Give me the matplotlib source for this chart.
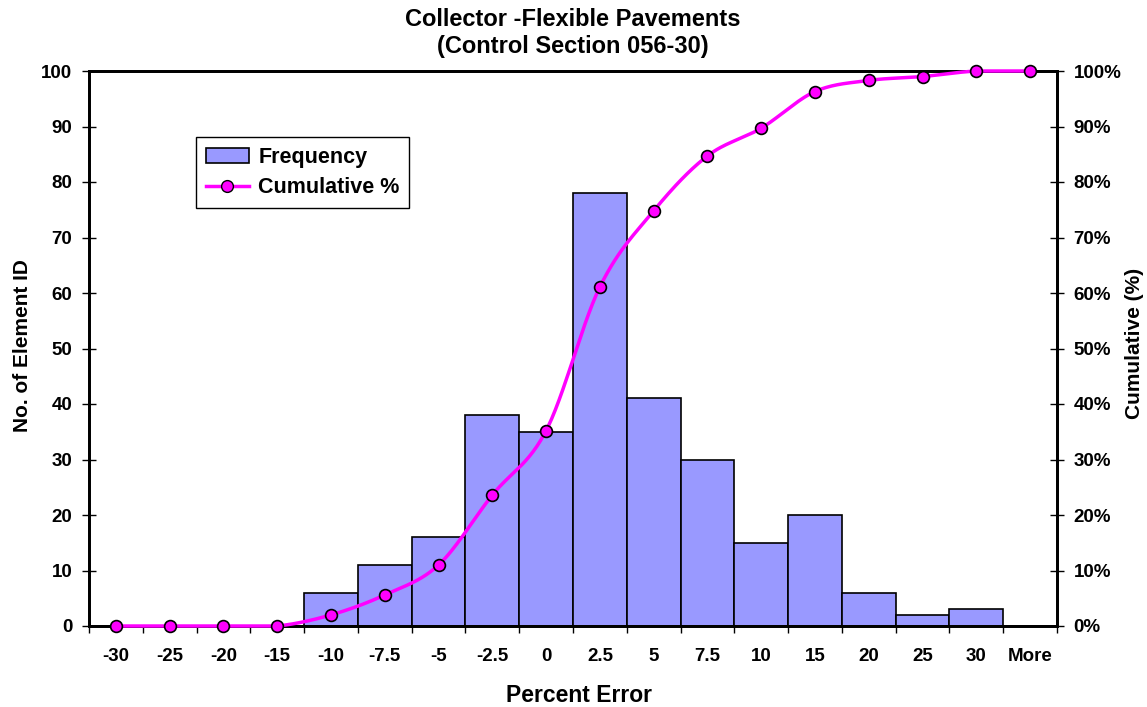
import numpy as np
import matplotlib.pyplot as plt
from matplotlib.patches import Patch
from matplotlib.lines import Line2D
from matplotlib.ticker import FuncFormatter, FixedLocator

plt.rcParams['font.family'] = ['Liberation Sans', 'DejaVu Sans']
plt.rcParams['font.weight'] = 'bold'

bins = ['-30', '-25', '-20', '-15', '-10', '-7.5', '-5', '-2.5', '0', '2.5',
        '5', '7.5', '10', '15', '20', '25', '30', 'More']
frequency = [0, 0, 0, 0, 6, 11, 16, 38, 35, 78, 41, 30, 15, 20, 6, 2, 3, 0]
cumulative_pct = [0, 0, 0, 0, 2.0, 5.6, 11.0, 23.6, 35.2, 61.1, 74.8, 84.7,
                  89.7, 96.3, 98.3, 99.0, 100, 100]

BAR_COLOR = '#9999FF'
LINE_COLOR = '#FF00FF'
W, H = 1147, 707


def smooth(x, y, steps=30):
    # Bezier smoothing through the points (same idea as a spreadsheet "smoothed line")
    x = np.asarray(x, float)
    y = np.asarray(y, float)
    n = len(x)
    xs, ys = [], []
    for i in range(n - 1):
        p0 = np.array([x[i], y[i]])
        p3 = np.array([x[i + 1], y[i + 1]])
        prev = np.array([x[max(i - 1, 0)], y[max(i - 1, 0)]])
        nxt = np.array([x[min(i + 2, n - 1)], y[min(i + 2, n - 1)]])
        p1 = p0 + (p3 - prev) / 6.0
        p2 = p3 - (nxt - p0) / 6.0
        t = np.linspace(0, 1, steps)[:, None]
        pts = ((1 - t) ** 3) * p0 + 3 * ((1 - t) ** 2) * t * p1 + 3 * (1 - t) * t ** 2 * p2 + t ** 3 * p3
        xs.extend(pts[:, 0])
        ys.extend(pts[:, 1])
    return np.array(xs), np.clip(np.array(ys), 0, 100)


fig = plt.figure(figsize=(W / 100, H / 100), dpi=100)
ax = fig.add_axes([89 / W, 1 - 626 / H, 968 / W, 555 / H])

pos = np.arange(len(bins))
ax.bar(pos, frequency, width=1.0, color=BAR_COLOR, edgecolor='black', linewidth=1.2, zorder=2)
ax.set_xlim(-0.5, len(bins) - 0.5)
ax.set_ylim(0, 100)
ax.set_yticks(range(0, 101, 10))
ax.set_xticks(pos)
ax.set_xticklabels(bins)
ax.xaxis.set_minor_locator(FixedLocator(np.arange(len(bins) + 1) - 0.5))
ax.tick_params(axis='x', which='major', length=0, pad=15.5, labelsize=13.5)
ax.tick_params(axis='x', which='minor', length=5, width=1, direction='out')
ax.tick_params(axis='y', length=10, width=1, direction='inout', labelsize=13.5, pad=7)
for s in ax.spines.values():
    s.set_linewidth(2)

ax2 = ax.twinx()
ax2.set_ylim(0, 100)
ax2.set_yticks(range(0, 101, 10))
ax2.yaxis.set_major_formatter(FuncFormatter(lambda v, p: f'{int(v)}%'))
ax2.tick_params(axis='y', length=10, width=1, direction='inout', labelsize=13.5, pad=7)
for s in ax2.spines.values():
    s.set_linewidth(2)
sx, sy = smooth(pos, cumulative_pct)
ax2.plot(sx, sy, color=LINE_COLOR, linewidth=2.5, zorder=3, clip_on=False)
ax2.plot(pos, cumulative_pct, linestyle='none', marker='o', markersize=8.5,
         markerfacecolor=LINE_COLOR, markeredgecolor='black', markeredgewidth=1.2,
         zorder=4, clip_on=False)

handles = [Patch(facecolor=BAR_COLOR, edgecolor='black', linewidth=1.2),
           Line2D([], [], color=LINE_COLOR, linewidth=2.5, marker='o', markersize=8.5,
                  markerfacecolor=LINE_COLOR, markeredgecolor='black')]
leg = ax2.legend(handles, ['Frequency', 'Cumulative %'], loc='upper left',
                 bbox_to_anchor=((196 - 89) / 968, (626 - 137) / 555), borderaxespad=0,
                 fancybox=False, framealpha=1, edgecolor='black', fontsize=15.5,
                 handlelength=2.0, handletextpad=0.45, borderpad=0.45, labelspacing=0.45)
leg.get_frame().set_linewidth(1)

# titles and axis labels placed in figure pixels
fig.text(573 / W, 1 - 19 / H, 'Collector -Flexible Pavements', ha='center', va='center',
         fontsize=17, fontweight='bold')
fig.text(573 / W, 1 - 47 / H, '(Control Section 056-30)', ha='center', va='center',
         fontsize=17, fontweight='bold')
fig.text(579 / W, 1 - 696 / H, 'Percent Error', ha='center', va='center',
         fontsize=16.5, fontweight='bold')
fig.text(22 / W, 1 - 346 / H, 'No. of Element ID', ha='center', va='center',
         rotation=90, fontsize=15, fontweight='bold')
fig.text(1134 / W, 1 - 343 / H, 'Cumulative (%)', ha='center', va='center',
         rotation=90, fontsize=15, fontweight='bold')

fig.savefig('out.png', dpi=100)
